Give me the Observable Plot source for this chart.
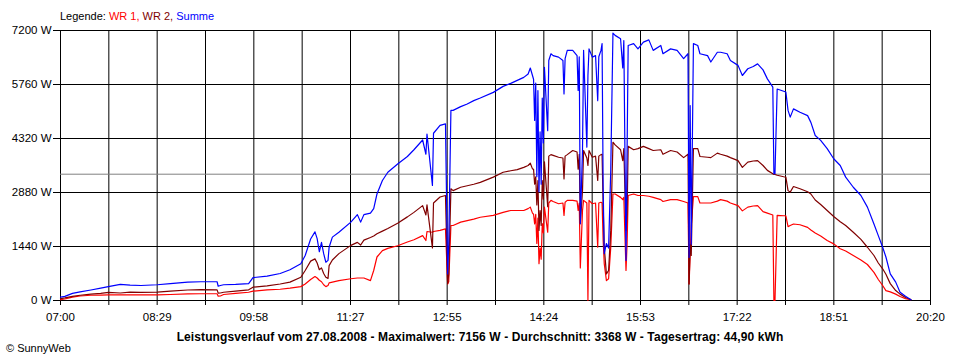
<!DOCTYPE html>
<html>
<head>
<meta charset="utf-8">
<script src="https://cdn.jsdelivr.net/npm/d3@7"></script>
<script src="https://cdn.jsdelivr.net/npm/@observablehq/plot@0.6"></script>
<style>
  html, body { margin: 0; padding: 0; background: #fff; }
  #wrap { position: relative; width: 960px; height: 360px; overflow: hidden; font-family: "Liberation Sans", Arial, sans-serif; }
  #legend { position: absolute; top: 10px; left: 60px; font-size: 11px; line-height: 13px; white-space: nowrap; }
  #chart { position: absolute; top: 24px; left: 0; }
  #chart svg text { font-family: "Liberation Sans", Arial, sans-serif; font-size: 11.5px; font-variant: normal; }
  #caption { position: absolute; top: 331px; left: 0; width: 960px; text-align: center; font-size: 12px; letter-spacing: 0.1px; line-height: 13px; font-weight: bold; white-space: nowrap; }
  #copy { position: absolute; top: 342px; left: 6px; font-size: 11px; line-height: 13px; white-space: nowrap; }
</style>
</head>
<body>
<div id="wrap">
  <div id="legend"></div>
  <div id="chart"></div>
  <div id="caption"></div>
  <div id="copy"></div>
</div>
<script>
// ---- data ----
const times = ["07:00","07:04","07:11","07:18","07:28","07:37","07:44","07:55","08:04","08:14","08:29","08:41","08:57","09:09","09:24","09:25","09:27","09:30","09:41","09:53","09:57","10:10","10:22","10:31","10:41","10:45","10:50","10:54","10:56","10:58","11:00","11:02","11:04","11:06","11:07","11:10","11:16","11:27","11:33","11:36","11:39","11:45","11:48","11:51","11:56","12:01","12:10","12:19","12:25","12:33","12:36","12:37","12:42","12:43","12:49","12:54","12:56","12:57","12:59","13:01","13:08","13:14","13:20","13:26","13:38","13:47","13:54","14:00","14:06","14:10","14:12","14:14","14:15","14:16","14:17","14:18","14:19","14:20","14:21","14:22","14:23","14:24","14:25","14:28","14:29","14:31","14:33","14:38","14:42","14:43","14:44","14:46","14:51","14:55","14:56","14:57","14:58","15:00","15:01","15:04","15:05","15:06","15:09","15:12","15:14","15:15","15:17","15:18","15:19","15:20","15:22","15:24","15:26","15:28","15:30","15:35","15:37","15:38","15:40","15:41","15:42","15:47","15:51","15:56","16:01","16:05","16:12","16:14","16:21","16:27","16:33","16:37","16:38","16:39","16:40","16:42","16:46","16:48","16:55","16:58","17:04","17:07","17:13","17:16","17:23","17:27","17:32","17:37","17:41","17:46","17:50","17:55","17:56","17:57","17:59","18:05","18:07","18:09","18:11","18:14","18:20","18:27","18:30","18:34","18:39","18:45","18:51","18:57","19:02","19:09","19:16","19:22","19:28","19:32","19:36","19:39","19:43","19:48","19:52","19:57","20:02"];

const summe = [90,110,190,230,280,330,370,430,410,400,420,450,490,500,500,380,400,420,430,450,610,650,720,820,980,1200,1640,1830,1650,1300,1550,1250,1020,1070,1420,1690,1820,2090,2290,2090,2290,2330,2450,2840,3200,3420,3640,3840,4020,4280,3900,4440,3070,4460,4670,4710,710,1500,5070,5070,5170,5240,5330,5400,5550,5710,5790,5870,5950,6040,6200,6000,5900,4800,5800,3300,5600,2900,4500,3100,5400,4200,6220,4530,6400,6580,6530,6490,6400,5510,6450,6670,6670,6530,5600,6500,2050,4000,6670,4090,6000,6710,6490,6530,5330,6500,6670,6850,3000,1250,1520,1400,3500,7130,7070,6980,6200,6930,1070,4000,6800,6850,6710,6890,6950,6670,6800,6580,6710,6670,6450,6580,1150,5200,1500,6850,6800,6580,6530,6360,6620,6620,6580,6400,6270,6000,6180,6240,6310,6150,5910,5690,3380,3380,5640,5580,5560,5070,4890,5110,5020,4930,4750,4400,4270,4050,3780,3600,3290,3020,2800,2490,2040,1730,1420,1160,710,490,220,115,20];

const wr2 = [50,70,110,140,170,190,215,200,225,215,225,250,280,290,285,195,200,220,250,285,355,390,440,490,620,800,1050,1110,1000,820,870,720,620,590,930,1080,1250,1470,1550,1480,1610,1680,1720,1780,1850,1920,2060,2230,2350,2530,2280,2550,1400,2600,2760,2800,450,700,2980,2930,3020,3060,3100,3150,3290,3420,3460,3490,3550,3600,3660,3510,3500,3100,3300,2550,3200,1870,2400,2000,3200,2700,3700,2500,3850,3890,3870,3820,3800,3240,3850,3890,4000,3960,3500,3900,2050,2930,4000,3800,3600,4000,3820,3850,3200,3850,3890,3900,2500,1420,710,800,1870,4220,4150,4020,3730,4050,1870,2300,4110,4020,4050,4110,4050,4000,4020,3900,4000,3960,3810,3900,440,1500,1200,4050,4050,3840,3820,3810,3930,3900,3850,3810,3730,3550,3690,3720,3730,3600,3470,3380,3360,3360,3340,3300,3290,2930,2890,3040,2980,2900,2840,2680,2560,2400,2240,2100,2000,1820,1630,1420,1200,1000,845,700,450,265,170,80,25];

const wr1 = [20,40,90,120,140,145,150,150,150,150,150,160,175,180,180,115,120,160,190,220,250,285,300,330,370,440,560,640,600,540,500,420,370,400,470,490,530,580,600,600,600,530,800,1160,1330,1390,1460,1560,1620,1730,1600,1840,1820,1840,1870,1910,440,500,2000,2000,2090,2130,2170,2220,2270,2350,2400,2400,2400,2450,2490,2330,2300,2040,2300,1520,2200,980,1400,1100,2050,1800,2490,1820,2600,2670,2640,2580,2600,2270,2620,2670,2670,2650,2400,2600,870,2400,2670,2600,0,2670,2580,2600,1420,2600,2620,2600,1600,980,530,580,1420,2840,2840,2750,2690,2750,800,1500,2800,2840,2800,2800,2780,2750,2690,2640,2690,2690,2640,2600,440,1200,2000,2770,2770,2600,2600,2600,2650,2690,2650,2600,2530,2390,2490,2520,2530,2370,2330,2280,0,0,2270,2260,2260,1970,2000,2040,2020,1950,1880,1800,1720,1600,1510,1380,1320,1200,1080,960,750,560,400,265,230,170,105,50,20];

const average = 3368;
const yTicks = [0, 1440, 2880, 4320, 5760, 7200];
const xTickLabels = ["07:00","08:29","09:58","11:27","12:55","14:24","15:53","17:22","18:51","20:20"];
const seriesNames = ["WR 1", "WR 2", "Summe"];
const seriesColors = ["#ff0000", "#800000", "#0000ff"];
const titleText = "Leistungsverlauf vom 27.08.2008 - Maximalwert: 7156 W - Durchschnitt: 3368 W - Tagesertrag: 44,90 kWh";
const copyText = "\u00a9 SunnyWeb";

// ---- build ----
const parse = s => { const [h, m] = s.split(":").map(Number); return new Date(Date.UTC(2008, 7, 27, h, m)); };
const t0 = parse(xTickLabels[0]);
const t1 = parse(xTickLabels[xTickLabels.length - 1]);
const gridTimes = d3.range(19).map(i => new Date(+t0 + i * (t1 - t0) / 18));
const labelByTime = new Map(gridTimes.map((d, i) => [+d, i % 2 === 0 ? xTickLabels[i / 2] : ""]));

const rows = times.map((t, i) => ({t: parse(t), wr1: wr1[i], wr2: wr2[i], summe: summe[i]}));

const chart = Plot.plot({
  width: 960,
  height: 300,
  marginLeft: 60,
  marginRight: 30,
  marginTop: 6,
  marginBottom: 24,
  style: {fontFamily: '"Liberation Sans", Arial, sans-serif', fontSize: "11.5px", color: "black", background: "white", overflow: "visible"},
  x: {type: "utc", domain: [t0, t1], ticks: gridTimes, tickFormat: d => labelByTime.get(+d) ?? "", tickSize: 5, tickPadding: 7, label: null},
  y: {domain: [0, 7200], ticks: yTicks, tickFormat: d => `${d} W`, tickSize: 7, tickPadding: 2, label: null},
  marks: [
    Plot.ruleX(gridTimes, {stroke: "black", strokeWidth: 1}),
    Plot.ruleY(yTicks, {stroke: "black", strokeWidth: 1}),
    Plot.ruleY([average], {stroke: "#808080", strokeWidth: 1}),
    Plot.line(rows, {x: "t", y: "wr1", stroke: seriesColors[0], strokeWidth: 1.2}),
    Plot.line(rows, {x: "t", y: "wr2", stroke: seriesColors[1], strokeWidth: 1.2}),
    Plot.line(rows, {x: "t", y: "summe", stroke: seriesColors[2], strokeWidth: 1.2})
  ]
});
document.getElementById("chart").appendChild(chart);

const legend = document.getElementById("legend");
legend.innerHTML = `<span style="color:black">Legende: </span>` +
  seriesNames.map((n, i) => `<span style="color:${seriesColors[i]}">${n}${i < seriesNames.length - 1 ? ", " : ""}</span>`).join("");
document.getElementById("caption").textContent = titleText;
document.getElementById("copy").textContent = copyText;
</script>
</body>
</html>
